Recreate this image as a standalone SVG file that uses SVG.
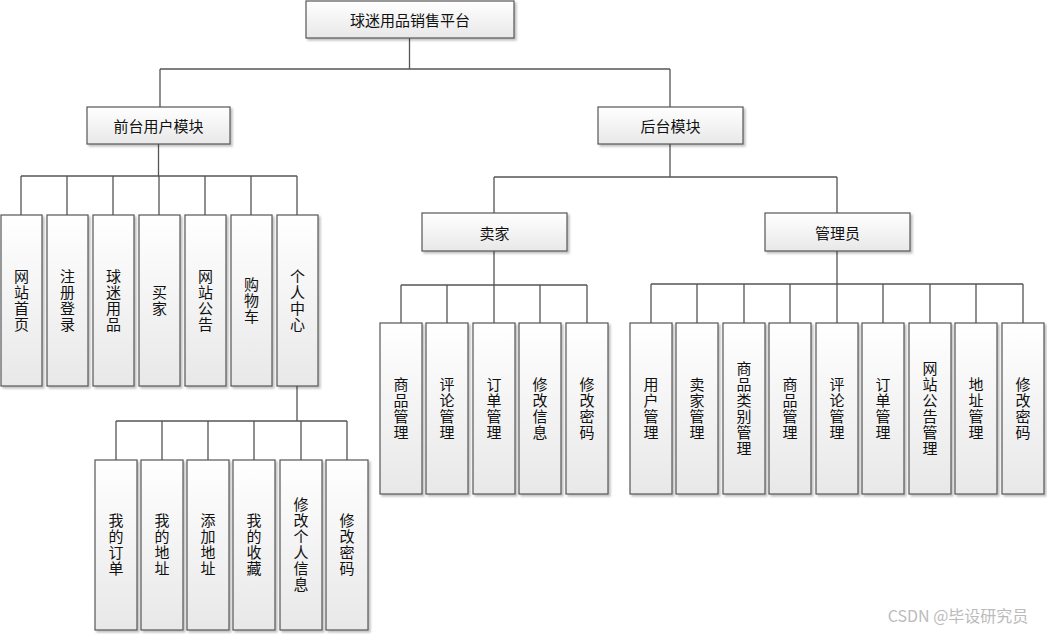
<svg xmlns="http://www.w3.org/2000/svg" width="1047" height="634" viewBox="0 0 1047 634">
<defs>
<linearGradient id="g" x1="0" y1="0" x2="0" y2="1"><stop offset="0" stop-color="#ffffff"/><stop offset="1" stop-color="#e8e8e8"/></linearGradient>
<filter id="sh" x="-10%" y="-10%" width="130%" height="130%"><feDropShadow dx="2" dy="2" stdDeviation="1" flood-color="#000" flood-opacity="0.25"/></filter>
</defs>
<style>
rect{fill:url(#g);stroke:#555;stroke-width:1.2;filter:url(#sh)}
text{font-family:"Noto Sans CJK SC",sans-serif;font-size:15px;fill:#111;text-anchor:middle}
.v{writing-mode:vertical-rl;text-orientation:upright;letter-spacing:1px}
.h{dominant-baseline:central}
#edges path{fill:none;stroke:#555;stroke-width:1.3}
</style>
<rect width="1047" height="634" fill="#fff" style="fill:#fff;stroke:none;filter:none"/>
<g id="edges">
<path d="M409.5 38V69M160 69H670M160 69V107M670 69V107"/>
<path d="M158.5 144V176M21 176H297M21 176V215M67 176V215M113 176V215M159 176V215M205 176V215M251 176V215M297 176V215"/>
<path d="M297 386V421M116 421H347M116 421V460M162 421V460M208 421V460M254 421V460M301 421V460M347 421V460"/>
<path d="M670 144V177M494 177H837M494 177V213M837 177V213"/>
<path d="M494 251V285M401 285H587M401 285V323M447 285V323M494 285V323M540 285V323M587 285V323"/>
<path d="M837 251V284M651 284H1023M651 284V323M697 284V323M744 284V323M790 284V323M837 284V323M883 284V323M930 284V323M976 284V323M1023 284V323"/>
</g>
<g id="root"><rect x="306" y="1" width="208" height="37"/><text class="h" x="410" y="19.5">球迷用品销售平台</text></g>
<g id="front"><rect x="87" y="107" width="143" height="37"/><text class="h" x="158.5" y="125.5">前台用户模块</text></g>
<g id="back"><rect x="598" y="107" width="145" height="37"/><text class="h" x="670.5" y="125.5">后台模块</text></g>
<g id="seller"><rect x="422" y="213" width="145" height="38"/><text class="h" x="494.5" y="232">卖家</text></g>
<g id="admin"><rect x="765" y="213" width="145" height="38"/><text class="h" x="837.5" y="232">管理员</text></g>
<g id="f1"><rect x="1" y="215" width="41" height="171"/><text class="v" x="21.5" y="300.5">网站首页</text></g>
<g id="f2"><rect x="47" y="215" width="41" height="171"/><text class="v" x="67.5" y="300.5">注册登录</text></g>
<g id="f3"><rect x="93" y="215" width="41" height="171"/><text class="v" x="113.5" y="300.5">球迷用品</text></g>
<g id="f4"><rect x="139" y="215" width="41" height="171"/><text class="v" x="159.5" y="300.5">买家</text></g>
<g id="f5"><rect x="185" y="215" width="41" height="171"/><text class="v" x="205.5" y="300.5">网站公告</text></g>
<g id="f6"><rect x="231" y="215" width="41" height="171"/><text class="v" x="251.5" y="300.5">购物车</text></g>
<g id="f7"><rect x="277" y="215" width="41" height="171"/><text class="v" x="297.5" y="300.5">个人中心</text></g>
<g id="p1"><rect x="95" y="460" width="42" height="170"/><text class="v" x="116" y="545">我的订单</text></g>
<g id="p2"><rect x="141" y="460" width="42" height="170"/><text class="v" x="162" y="545">我的地址</text></g>
<g id="p3"><rect x="187" y="460" width="42" height="170"/><text class="v" x="208" y="545">添加地址</text></g>
<g id="p4"><rect x="233" y="460" width="42" height="170"/><text class="v" x="254" y="545">我的收藏</text></g>
<g id="p5"><rect x="280" y="460" width="42" height="170"/><text class="v" x="301" y="545">修改个人信息</text></g>
<g id="p6"><rect x="326" y="460" width="42" height="170"/><text class="v" x="347" y="545">修改密码</text></g>
<g id="s1"><rect x="380" y="323" width="42" height="171"/><text class="v" x="401" y="408.5">商品管理</text></g>
<g id="s2"><rect x="426" y="323" width="42" height="171"/><text class="v" x="447" y="408.5">评论管理</text></g>
<g id="s3"><rect x="473" y="323" width="42" height="171"/><text class="v" x="494" y="408.5">订单管理</text></g>
<g id="s4"><rect x="519" y="323" width="42" height="171"/><text class="v" x="540" y="408.5">修改信息</text></g>
<g id="s5"><rect x="566" y="323" width="42" height="171"/><text class="v" x="587" y="408.5">修改密码</text></g>
<g id="a1"><rect x="630" y="323" width="42" height="171"/><text class="v" x="651" y="408.5">用户管理</text></g>
<g id="a2"><rect x="676" y="323" width="42" height="171"/><text class="v" x="697" y="408.5">卖家管理</text></g>
<g id="a3"><rect x="723" y="323" width="42" height="171"/><text class="v" x="744" y="408.5">商品类别管理</text></g>
<g id="a4"><rect x="769" y="323" width="42" height="171"/><text class="v" x="790" y="408.5">商品管理</text></g>
<g id="a5"><rect x="816" y="323" width="42" height="171"/><text class="v" x="837" y="408.5">评论管理</text></g>
<g id="a6"><rect x="862" y="323" width="42" height="171"/><text class="v" x="883" y="408.5">订单管理</text></g>
<g id="a7"><rect x="909" y="323" width="42" height="171"/><text class="v" x="930" y="408.5">网站公告管理</text></g>
<g id="a8"><rect x="955" y="323" width="42" height="171"/><text class="v" x="976" y="408.5">地址管理</text></g>
<g id="a9"><rect x="1002" y="323" width="42" height="171"/><text class="v" x="1023" y="408.5">修改密码</text></g>
<text x="958" y="622" style="fill:#bbb;font-size:16px">CSDN @毕设研究员</text>
</svg>
